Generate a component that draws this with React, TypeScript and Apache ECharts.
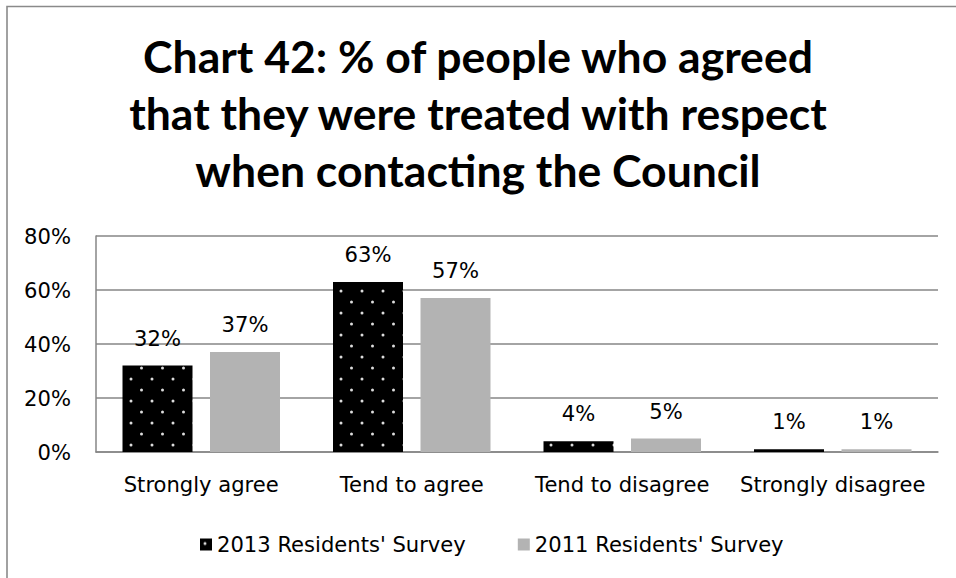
import React, { useEffect, useRef } from "react";
import * as echarts from "echarts";

const titleLines = [
  "Chart 42: % of people who agreed",
  "that they were treated with respect",
  "when contacting the Council",
];
const categories = ["Strongly agree", "Tend to agree", "Tend to disagree", "Strongly disagree"];
const series2013 = [32, 63, 4, 1];
const series2011 = [37, 57, 5, 1];
const seriesNames = ["2013 Residents' Survey", "2011 Residents' Survey"];
const yTicks = [0, 20, 40, 60, 80];

const TITLE_FONT = "Lato";
const FONT = "DejaVu Sans";
const FS = 21.1;

function makeDotPattern(): HTMLCanvasElement {
  const c = document.createElement("canvas");
  c.width = 21;
  c.height = 22;
  const ctx = c.getContext("2d")!;
  ctx.fillStyle = "#000000";
  ctx.fillRect(0, 0, 21, 22);
  ctx.fillStyle = "#dcdcdc";
  ctx.beginPath();
  ctx.arc(5, 5, 1.5, 0, Math.PI * 2);
  ctx.fill();
  ctx.beginPath();
  ctx.arc(15.5, 16, 1.5, 0, Math.PI * 2);
  ctx.fill();
  return c;
}

export default function App() {
  const ref = useRef<HTMLDivElement>(null);
  useEffect(() => {
    if (!ref.current) return;
    const chart = echarts.init(ref.current, undefined, { renderer: "svg" });
    const pattern = makeDotPattern();
    const labelStyle = {
      show: true,
      position: "top" as const,
      distance: 17,
      formatter: (p: any) => `${p.value}%`,
      fontFamily: FONT,
      fontSize: FS,
      color: "#000",
    };
    chart.setOption({
      animation: false,
      backgroundColor: "#fff",
      title: {
        text: titleLines.join("\n"),
        left: "center",
        top: 27,
        padding: 0,
        textStyle: {
          fontFamily: TITLE_FONT,
          fontWeight: "bold",
          fontSize: 44.5,
          lineHeight: 57,
          color: "#000",
        },
      },
      graphic: [
        {
          type: "rect",
          shape: { x: 7, y: 6.5, width: 1000, height: 1000 },
          style: { fill: "none", stroke: "#8a8a8a", lineWidth: 1.6 },
          silent: true,
        },
      ],
      legend: {
        data: seriesNames,
        left: 195,
        top: 529,
        itemWidth: 12,
        itemHeight: 12,
        itemGap: 52,
        icon: "rect",
        textStyle: { fontFamily: FONT, fontSize: FS, color: "#000" },
      },
      grid: { left: 96, right: 18, top: 236, bottom: 126 },
      xAxis: {
        type: "category",
        data: categories,
        axisLine: { show: true, lineStyle: { color: "#868686", width: 1.5 } },
        axisTick: { show: false },
        axisLabel: { interval: 0, fontFamily: FONT, fontSize: FS, color: "#000", margin: 22 },
      },
      yAxis: {
        type: "value",
        min: 0,
        max: 80,
        interval: 20,
        axisLine: { show: true, lineStyle: { color: "#868686", width: 1.5 } },
        axisTick: { show: false },
        splitLine: { show: true, lineStyle: { color: "#868686", width: 1.5 } },
        axisLabel: {
          fontFamily: FONT,
          fontSize: FS,
          color: "#000",
          margin: 25,
          formatter: (v: number) => (yTicks.includes(v) ? `${v}%` : ""),
        },
      },
      series: [
        {
          name: seriesNames[0],
          type: "bar",
          data: series2013,
          barWidth: 70,
          barGap: "25%",
          itemStyle: { color: { image: pattern, repeat: "repeat" } as any },
          label: labelStyle,
        },
        {
          name: seriesNames[1],
          type: "bar",
          data: series2011,
          barWidth: 70,
          barGap: "25%",
          itemStyle: { color: "#b3b3b3" },
          label: labelStyle,
        },
      ],
    });
    return () => chart.dispose();
  }, []);
  return (
    <div
      ref={ref}
      style={{ position: "fixed", left: 0, top: 0, width: 956, height: 578 }}
    />
  );
}
